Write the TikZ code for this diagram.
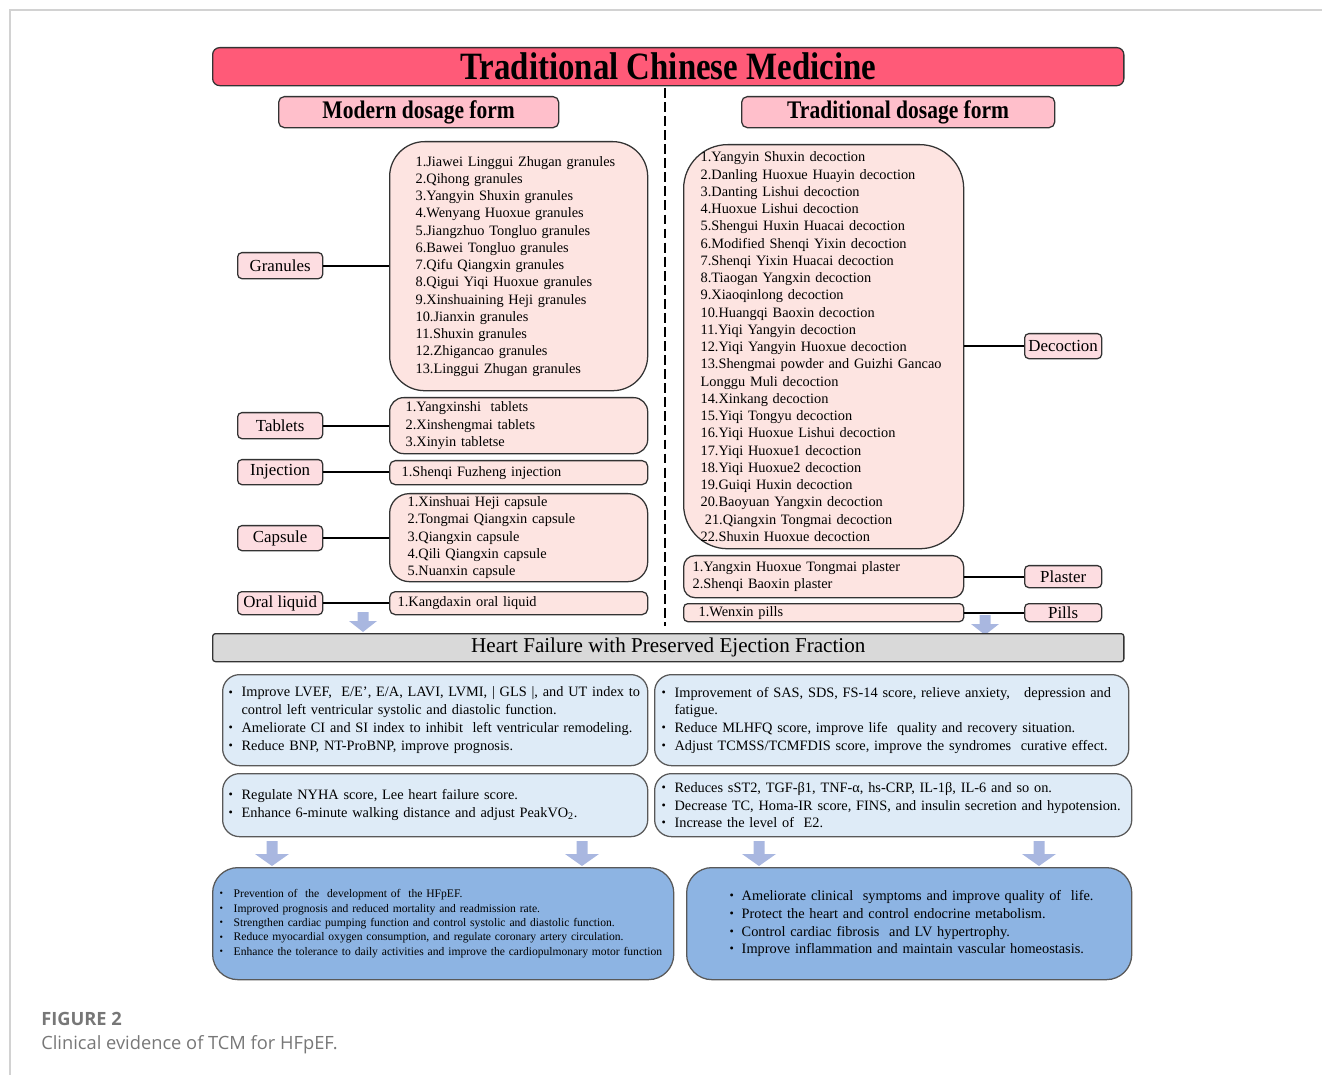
\documentclass[tikz,border=0pt]{standalone}
\usepackage{fontspec}
\setmainfont{Liberation Serif}
\newfontfamily\condfont{Liberation Serif}[FakeStretch=0.85]
\newfontfamily\capfont{Open Sans}
\usetikzlibrary{positioning}

\definecolor{tcmred}{HTML}{FF5A78}
\definecolor{headpink}{HTML}{FFBFCB}
\definecolor{listpink}{HTML}{FDE4E1}
\definecolor{tagpink}{HTML}{FDDDE1}
\definecolor{hfgray}{HTML}{D9D9D9}
\definecolor{effblue}{HTML}{DEEBF7}
\definecolor{outblue}{HTML}{8DB4E3}
\definecolor{arrowblue}{HTML}{A9B7E0}
\definecolor{framegray}{HTML}{D2D2D2}
\definecolor{capgray}{HTML}{777777}

\newcommand{\bl}{\raisebox{.15ex}{\scalebox{.85}{\textbullet}}}
\newcommand{\bitem}[1]{\makebox[#1][l]{\bl}}

\tikzset{
  box/.style={draw=black!80, line width=0.9pt, inner sep=0pt, anchor=north west},
  titlebar/.style={box, fill=tcmred, rounded corners=5pt,
    font=\condfont\bfseries\fontsize{27.5}{29}\selectfont},
  formhead/.style={box, fill=headpink, rounded corners=4pt,
    font=\condfont\bfseries\fontsize{18}{19}\selectfont},
  formtag/.style={box, fill=tagpink, rounded corners=3pt,
    font=\fontsize{12}{13}\selectfont},
  listbox/.style={box, fill=listpink, align=left,
    font=\fontsize{10.2}{12.27}\selectfont},
  hfbar/.style={box, fill=hfgray, rounded corners=2pt,
    font=\fontsize{15}{16}\selectfont},
  effbox/.style={box, fill=effblue, draw=black!65, rounded corners=12pt, align=left,
    font=\fontsize{10.2}{12.6}\selectfont},
  outbox/.style={box, fill=outblue, draw=black!65, rounded corners=18pt, align=left},
  link/.style={draw=black, line width=1.3pt},
  divider/.style={draw=black, line width=1.2pt, dash pattern=on 7pt off 3pt},
  smallarrow/.pic={\fill[arrowblue] (-5.5,0) -- (5.5,0) -- (5.5,9) -- (14,9) -- (0,20) -- (-14,9) -- (-5.5,9) -- cycle;},
  bigarrow/.pic={\fill[arrowblue] (-5.5,0) -- (5.5,0) -- (5.5,13) -- (17,13) -- (0,25) -- (-17,13) -- (-5.5,13) -- cycle;}
}

\begin{document}
\begin{tikzpicture}[x=0.025cm, y=-0.025cm]
  \useasboundingbox (0,0) rectangle (1322,1075);
  \draw[framegray, line width=1.4pt] (1322,10) -- (10,10) -- (10,1075);

  % headings
  \node[titlebar, minimum width=22.775cm, minimum height=0.95cm] (tcm) at (212,47) {Traditional Chinese Medicine};
  \node[formhead, minimum width=7cm, minimum height=0.775cm] (modern) at (278,96) {Modern dosage form};
  \node[formhead, minimum width=7.825cm, minimum height=0.775cm] (tradition) at (741,96) {Traditional dosage form};
  \coordinate (divtop) at (665,88);
  \coordinate (divbot) at (665,626);
  \draw[divider] (divtop) -- (divbot);

  % modern dosage forms
  \node[listbox, rounded corners=0.875cm, minimum width=6.45cm, minimum height=6.225cm,
    text width=5.15cm, inner xsep=0.65cm] (granlist) at (389,141) {%
    1.Jiawei Linggui Zhugan granules\\ 2.Qihong granules\\ 3.Yangyin Shuxin granules\\
    4.Wenyang Huoxue granules\\ 5.Jiangzhuo Tongluo granules\\ 6.Bawei Tongluo granules\\
    7.Qifu Qiangxin granules\\ 8.Qigui Yiqi Huoxue granules\\ 9.Xinshuaining Heji granules\\
    10.Jianxin granules\\ 11.Shuxin granules\\ 12.Zhigancao granules\\ 13.Linggui Zhugan granules};
  \node[listbox, rounded corners=10pt, minimum width=6.45cm, minimum height=1.4cm,
    text width=5.65cm, inner xsep=0.4cm] (tabllist) at (389,397) {%
    1.Yangxinshi\ \ tablets\\ 2.Xinshengmai tablets\\ 3.Xinyin tabletse};
  \node[listbox, rounded corners=4pt, minimum width=6.45cm, minimum height=0.6cm,
    text width=5.85cm, inner xsep=0.3cm] (injlist) at (389,460) {\raisebox{-2pt}{1.Shenqi Fuzheng injection}};
  \node[listbox, rounded corners=14pt, minimum width=6.45cm, minimum height=2.2cm,
    text width=5.55cm, inner xsep=0.45cm] (capslist) at (389,493) {%
    1.Xinshuai Heji capsule\\ 2.Tongmai Qiangxin capsule\\ 3.Qiangxin capsule\\
    4.Qili Qiangxin capsule\\ 5.Nuanxin capsule};
  \node[listbox, rounded corners=4pt, minimum width=6.45cm, minimum height=0.575cm,
    text width=6.05cm, inner xsep=0.2cm] (orallist) at (389,591) {1.Kangdaxin oral liquid};

  \node[formtag, minimum width=2.125cm, minimum height=0.65cm] (gran) at (237,252) {Granules};
  \node[formtag, minimum width=2.125cm, minimum height=0.65cm] (tabl) at (237,412) {Tablets};
  \node[formtag, minimum width=2.125cm, minimum height=0.625cm] (inj) at (237,459) {Injection};
  \node[formtag, minimum width=2.125cm, minimum height=0.625cm] (caps) at (237,525) {Capsule};
  \node[formtag, minimum width=2.125cm, minimum height=0.575cm] (oral) at (237,591) {Oral liquid};

  \draw[link] (gran.east) -- (granlist.west |- gran.east);
  \draw[link] (tabl.east) -- (tabllist.west |- tabl.east);
  \draw[link] (inj.east) -- (injlist.west |- inj.east);
  \draw[link] (caps.east) -- (capslist.west |- caps.east);
  \draw[link] (oral.east) -- (orallist.west |- oral.east);

  % traditional dosage forms
  \node[listbox, rounded corners=1.1cm, minimum width=7cm, minimum height=10.1cm,
    text width=6.15cm, inner xsep=0.425cm] (declist) at (683,144) {%
    1.Yangyin Shuxin decoction\\ 2.Danling Huoxue Huayin decoction\\ 3.Danting Lishui decoction\\
    4.Huoxue Lishui decoction\\ 5.Shengui Huxin Huacai decoction\\ 6.Modified Shenqi Yixin decoction\\
    7.Shenqi Yixin Huacai decoction\\ 8.Tiaogan Yangxin decoction\\ 9.Xiaoqinlong decoction\\
    10.Huangqi Baoxin decoction\\ 11.Yiqi Yangyin decoction\\ 12.Yiqi Yangyin Huoxue decoction\\
    13.Shengmai powder and Guizhi Gancao\\ Longgu Muli decoction\\ 14.Xinkang decoction\\
    15.Yiqi Tongyu decoction\\ 16.Yiqi Huoxue Lishui decoction\\ 17.Yiqi Huoxue1 decoction\\
    18.Yiqi Huoxue2 decoction\\ 19.Guiqi Huxin decoction\\ 20.Baoyuan Yangxin decoction\\
    \hspace*{3pt}21.Qiangxin Tongmai decoction\\ 22.Shuxin Huoxue decoction};
  \node[listbox, rounded corners=8pt, minimum width=7cm, minimum height=1.05cm,
    text width=6.55cm, inner xsep=0.225cm] (plastlist) at (683,555) {%
    1.Yangxin Huoxue Tongmai plaster\\ 2.Shenqi Baoxin plaster};
  \node[listbox, rounded corners=3pt, minimum width=7cm, minimum height=0.45cm,
    text width=6.25cm, inner xsep=0.375cm] (pilllist) at (683,603) {1.Wenxin pills};

  \node[formtag, minimum width=1.925cm, minimum height=0.625cm] (dec) at (1024,333) {Decoction};
  \node[formtag, minimum width=1.925cm, minimum height=0.55cm] (plast) at (1024,565) {Plaster};
  \node[formtag, minimum width=1.925cm, minimum height=0.45cm] (pill) at (1024,603) {Pills};

  \draw[link] (dec.west) -- (declist.east |- dec.west);
  \draw[link] (plast.west) -- (plastlist.east |- plast.west);
  \draw[link] (pill.west) -- (pilllist.east |- pill.west);

  \pic at (363,612) {smallarrow};
  \pic at (985,615) {smallarrow};

  % HFpEF and effects
  \node[hfbar, minimum width=22.775cm, minimum height=0.7cm] (hf) at (212,633) {Heart Failure with Preserved Ejection Fraction};

  \node[effbox, minimum width=10.625cm, minimum height=2.275cm, text width=10.325cm, inner xsep=0.15cm] (cardiac) at (222,674) {%
    \bitem{9.2pt}Improve LVEF,\ \ E/E’, E/A, LAVI, LVMI, | GLS |, and UT index to\\
    \hspace*{9.2pt}control left ventricular systolic and diastolic function.\\
    \bitem{9.2pt}Ameliorate CI and SI index to inhibit\ \ left ventricular remodeling.\\
    \bitem{9.2pt}Reduce BNP, NT-ProBNP, improve prognosis.};
  \node[effbox, minimum width=11.85cm, minimum height=2.275cm, text width=11.5cm, inner xsep=0.175cm] (quality) at (654,674) {%
    \bitem{9.2pt}Improvement of SAS, SDS, FS-14 score, relieve anxiety,\ \ \ depression and\\
    \hspace*{9.2pt}fatigue.\\
    \bitem{9.2pt}Reduce MLHFQ score, improve life\ \ quality and recovery situation.\\
    \bitem{9.2pt}Adjust TCMSS/TCMFDIS score, improve the syndromes\ \ curative effect.};
  \node[effbox, minimum width=10.625cm, minimum height=1.575cm, text width=10.325cm, inner xsep=0.15cm] (motion) at (222,773) {%
    \bitem{9.2pt}Regulate NYHA score, Lee heart failure score.\\
    \bitem{9.2pt}Enhance 6-minute walking distance and adjust PeakVO\textsubscript{2}.};
  \node[effbox, minimum width=11.925cm, minimum height=1.575cm, text width=11.575cm, inner xsep=0.175cm] (markers) at (654,773) {%
    \bitem{9.2pt}Reduces sST2, TGF-β1, TNF-α, hs-CRP, IL-1β, IL-6 and so on.\\
    \bitem{9.2pt}Decrease TC, Homa-IR score, FINS, and insulin secretion and hypotension.\\
    \bitem{9.2pt}Increase the level of\ \ E2.};

  \pic at (272,841) {bigarrow};
  \pic at (582,841) {bigarrow};
  \pic at (759,841) {bigarrow};
  \pic at (1039,841) {bigarrow};

  % outcomes
  \node[outbox, minimum width=11.525cm, minimum height=2.8cm, text width=11.175cm, inner xsep=0.175cm,
    font=\fontsize{8.25}{10.3}\selectfont] (prognosis) at (212,867) {%
    \bitem{10pt}Prevention of\ \ the\ \ development of\ \ the HFpEF.\\
    \bitem{10pt}Improved prognosis and reduced mortality and readmission rate.\\
    \bitem{10pt}Strengthen cardiac pumping function and control systolic and diastolic function.\\
    \bitem{10pt}Reduce myocardial oxygen consumption, and regulate coronary artery circulation.\\
    \bitem{10pt}Enhance the tolerance to daily activities and improve the cardiopulmonary motor function};
  \node[outbox, minimum width=11.125cm, minimum height=2.8cm, text width=10.025cm, inner xsep=0.55cm,
    font=\fontsize{10.2}{12.6}\selectfont] (symptoms) at (686,867) {%
    \hspace*{0.525cm}\bitem{8.6pt}Ameliorate clinical\ \ symptoms and improve quality of\ \ life.\\
    \hspace*{0.525cm}\bitem{8.6pt}Protect the heart and control endocrine metabolism.\\
    \hspace*{0.525cm}\bitem{8.6pt}Control cardiac fibrosis\ \ and LV hypertrophy.\\
    \hspace*{0.525cm}\bitem{8.6pt}Improve inflammation and maintain vascular homeostasis.};

  % caption
  \node[anchor=base west, inner sep=0pt, text=capgray, font=\capfont\bfseries\fontsize{13}{15}\selectfont] (fig) at (41,1025) {FIGURE 2};
  \node[anchor=base west, inner sep=0pt, text=capgray, font=\capfont\fontsize{13}{15}\selectfont] (figcap) at (41,1049) {Clinical evidence of TCM for HFpEF.};
\end{tikzpicture}
\end{document}
